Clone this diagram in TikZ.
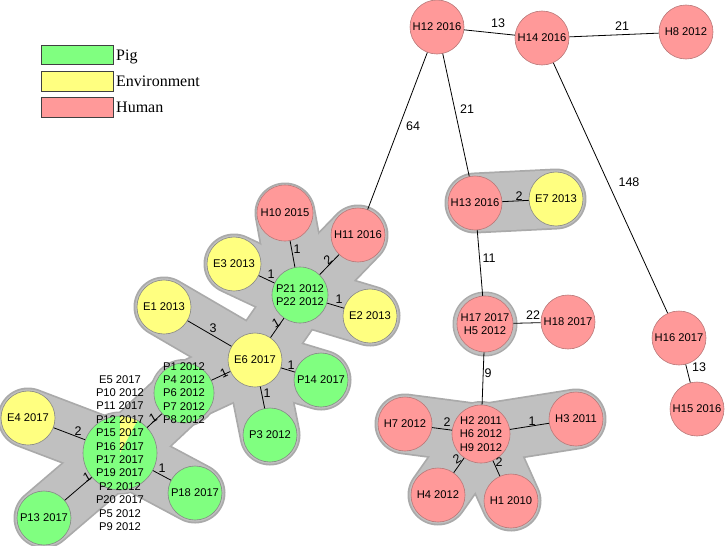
\documentclass[tikz,border=0pt]{standalone}
\usepackage{fontspec}
\setmainfont{Liberation Sans}
\newfontfamily\legendfont{Liberation Serif}
\usetikzlibrary{backgrounds}
\definecolor{pig}{RGB}{128,255,128}
\definecolor{env}{RGB}{255,255,128}
\definecolor{hum}{RGB}{255,153,153}
\definecolor{halofill}{RGB}{192,192,192}
\definecolor{haloedge}{RGB}{170,170,170}
\definecolor{nodeedge}{RGB}{135,135,135}
\definecolor{humedge}{RGB}{185,120,120}
\begin{document}
\begin{tikzpicture}[x=1pt,y=-1pt,
  sample/.style={circle,draw=nodeedge,line width=0.6pt,inner sep=0pt,minimum size=54pt,align=center,font=\fontsize{11.2}{13.4}\selectfont},
  pignode/.style={sample,fill=pig},
  envnode/.style={sample,fill=env},
  humnode/.style={sample,fill=hum,draw=humedge},
  multi/.style={align=center,inner sep=0pt,font=\fontsize{11.2}{13.4}\selectfont},
  link/.style={draw=black,line width=0.8pt},
  lbl/.style={font=\fontsize{12.5}{14}\selectfont,inner sep=0pt},
  haloout/.style={draw=haloedge,line width=61pt,line cap=round},
  haloin/.style={draw=halofill,line width=57.5pt,line cap=round},
  legbox/.style={draw=black!75,line width=1pt,minimum width=72pt,inner sep=0pt},
  legtext/.style={font=\legendfont\fontsize{16}{18}\selectfont,anchor=base west,inner sep=0pt}
]
\useasboundingbox (0,0) rectangle (726,546);

% legend
\node[legbox,fill=pig,minimum height=19pt] (lg1) at (77,54.5) {};
\node[legbox,fill=env,minimum height=20pt] (lg2) at (77,81) {};
\node[legbox,fill=hum,minimum height=20pt] (lg3) at (77,107) {};
\node[legtext] (lt1) at (116,60) {Pig};
\node[legtext] (lt2) at (116,86) {Environment};
\node[legtext] (lt3) at (116,112) {Human};

% human nodes (right)
\node[humnode] (h12) at (437,27) {H12 2016};
\node[humnode] (h14) at (542,38) {H14 2016};
\node[humnode] (h8) at (686,32) {H8 2012};
\node[humnode] (h13) at (475,203) {H13 2016};
\node[envnode] (e7) at (556,199) {E7 2013};
\node[humnode,minimum size=56pt] (h17) at (485,324) {H17 2017\\H5 2012};
\node[humnode] (h18) at (568,322) {H18 2017};
\node[humnode] (h16) at (679,338) {H16 2017};
\node[humnode] (h15) at (697,409) {H15 2016};
\node[humnode,minimum size=58pt] (h2) at (481,434) {H2 2011\\H6 2012\\H9 2012};
\node[humnode] (h7) at (405,424) {H7 2012};
\node[humnode] (h3) at (576,419) {H3 2011};
\node[humnode] (h4) at (438,495) {H4 2012};
\node[humnode] (h1) at (511,501) {H1 2010};

% left cluster
\node[humnode,minimum size=56pt] (h10) at (285,213) {H10 2015};
\node[humnode] (h11) at (358,235) {H11 2016};
\node[envnode] (e3) at (234,264) {E3 2013};
\node[pignode,minimum size=56pt] (p21) at (300,295) {P21 2012\\P22 2012};
\node[envnode] (e2) at (370,316) {E2 2013};
\node[envnode] (e1) at (164,307) {E1 2013};
\node[envnode] (e6) at (255,360) {E6 2017};
\node[pignode] (p14) at (321,380) {P14 2017};
\node[pignode] (p3) at (270,435) {P3 2012};
\node[pignode,minimum size=60pt,
  label={[multi]center:{P1 2012\\P4 2012\\P6 2012\\P7 2012\\P8 2012}}] (p1) at (184,393) {};
\node[envnode] (e4) at (28,418) {E4 2017};
\node[pignode,minimum size=74pt,
  path picture={\fill[env] (path picture bounding box.center) -- ++(0pt,37pt)
     arc[start angle=90,end angle=62,radius=37pt] -- cycle;},
  label={[multi]center:{E5 2017\\P10 2012\\P11 2017\\P12 2017\\P15 2017\\P16 2017\\P17 2017\\P19 2017\\P2 2012\\P20 2017\\P5 2012\\P9 2012}}] (p15) at (120,453) {};
\node[pignode] (p18) at (195,493) {P18 2017};
\node[pignode] (p13) at (44,518) {P13 2017};

% halos
\begin{pgfonlayer}{background}
\foreach \a/\b in {p15/e4,p15/p13,p15/p18,p15/p1,p1/e6,e6/e1,e6/p3,e6/p14,e6/p21,p21/e3,p21/h10,p21/h11,p21/e2,h13/e7,h2/h7,h2/h3,h2/h4,h2/h1}
  \draw[haloout] (\a.center) -- (\b.center);
\foreach \n/\r in {p15/41.5,p1/34,h2/33,h17/32.5}
  \fill[haloedge] (\n.center) circle[radius=\r pt];
\foreach \a/\b in {p15/e4,p15/p13,p15/p18,p15/p1,p1/e6,e6/e1,e6/p3,e6/p14,e6/p21,p21/e3,p21/h10,p21/h11,p21/e2,h13/e7,h2/h7,h2/h3,h2/h4,h2/h1}
  \draw[haloin] (\a.center) -- (\b.center);
\foreach \n/\r in {p15/40,p1/32.5,h2/31.5,h17/31}
  \fill[halofill] (\n.center) circle[radius=\r pt];
\end{pgfonlayer}

% connectors
\draw[link] (h12) -- (h14) node[lbl] at (498,23) {13};
\draw[link] (h14) -- (h8) node[lbl] at (622,26) {21};
\draw[link] (h12) -- (h11) node[lbl] at (413,126) {64};
\draw[link] (h12) -- (h13) node[lbl] at (467,109) {21};
\draw[link] (h14) -- (h16) node[lbl] at (629,182) {148};
\draw[link] (h16) -- (h15) node[lbl] at (699,367) {13};
\draw[link] (h13) -- (e7) node[lbl] at (519,196) {2};
\draw[link] (h13) -- (h17) node[lbl] at (489,258) {11};
\draw[link] (h17) -- (h18) node[lbl] at (533,315) {22};
\draw[link] (h17) -- (h2) node[lbl] at (488,373) {9};
\draw[link] (h2) -- (h7) node[lbl] at (447,422) {2};
\draw[link] (h2) -- (h3) node[lbl] at (532,421) {1};
\draw[link] (h2) -- (h4) node[lbl,rotate=30] at (457,459) {2};
\draw[link] (h2) -- (h1) node[lbl] at (499,462) {2};
\draw[link] (h10) -- (p21) node[lbl] at (297,249) {1};
\draw[link] (h11) -- (p21) node[lbl,rotate=40] at (328,260) {2};
\draw[link] (e3) -- (p21) node[lbl] at (271,274) {1};
\draw[link] (p21) -- (e2) node[lbl] at (339,299) {1};
\draw[link] (p21) -- (e6) node[lbl,rotate=30] at (276,323) {1};
\draw[link] (e1) -- (e6) node[lbl] at (213,328) {3};
\draw[link] (e6) -- (p1) node[lbl,rotate=25] at (224,373) {1};
\draw[link] (e6) -- (p14) node[lbl] at (291,365) {1};
\draw[link] (e6) -- (p3) node[lbl] at (267,393) {1};
\draw[link] (p1) -- (p15) node[lbl,rotate=30] at (153,418) {1};
\draw[link] (e4) -- (p15) node[lbl] at (78,431) {2};
\draw[link] (p15) -- (p18) node[lbl] at (162,468) {1};
\draw[link] (p15) -- (p13) node[lbl,rotate=30] at (87,477) {1};
\end{tikzpicture}
\end{document}
